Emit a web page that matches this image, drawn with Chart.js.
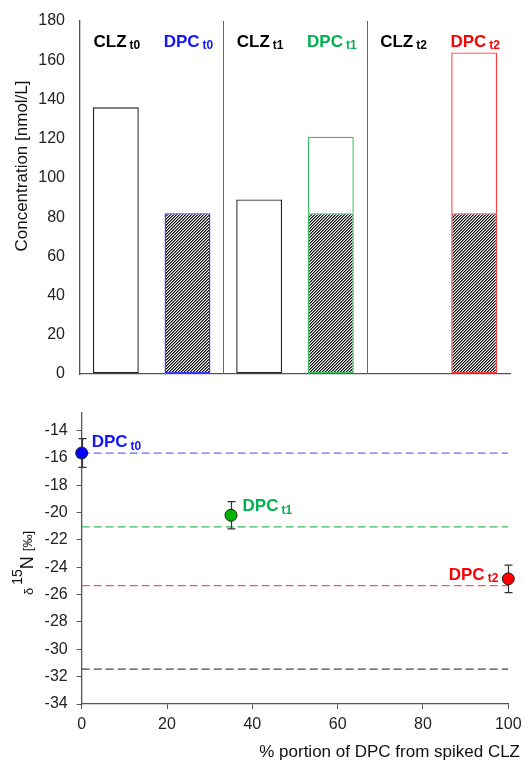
<!DOCTYPE html>
<html><head><meta charset="utf-8">
<script src="https://cdn.jsdelivr.net/npm/chart.js@4.4.1/dist/chart.umd.min.js"></script>
<style>html,body{margin:0;padding:0;background:#fff;width:525px;height:761px;overflow:hidden;} canvas{position:absolute;left:0;}</style>
</head><body>
<canvas id="topChart" width="525" height="390" style="top:0"></canvas>
<canvas id="botChart" width="525" height="371" style="top:390px"></canvas>
<script>
// ---------- data ----------
const concCategories = ['CLZ', 'DPC', 'CLZ', 'DPC', 'CLZ', 'DPC'];
const concSubscripts = ['t0', 't0', 't1', 't1', 't2', 't2'];
const clzConc = [136, null, 89, null, null, null];
const dpcInitialConc = [null, 82, null, 82, null, 82];
const dpcTotalConc = [null, 82, null, 121, null, 164];
const concTickStep = 20;
const concMin = 0, concMax = 180;

const deltaNames = ['DPC', 'DPC', 'DPC'];
const deltaSubscripts = ['t0', 't1', 't2'];
const portionDPC = [0, 35, 100];
const delta15N = [-15.65, -20.2, -24.85];
const delta15NErr = [1.05, 1.0, 1.0];
const refDelta15N = [-15.65, -21.05, -25.35, -31.45];
const portionTickStep = 20;
const deltaTickStep = 2;
const deltaMin = -34, deltaMax = -12.7, deltaTopTick = -14;

// ---------- styles ----------
const FONT = "'Liberation Sans', Arial, Helvetica, sans-serif";
const BLUE = '#1414ff', GREEN = '#00b050', RED = '#ff0000';
const labelColors = ['#000', BLUE, '#000', GREEN, '#000', RED];
const barBorderColors = ['#222', '#3333ff', '#222', '#33c060', '#222', '#ff3a3a'];
const refColors = ['#6a6aff', '#3cbc5c', '#ff5555', '#444'];
const pointFill = ['#0000ff', '#00b400', '#ff0000'];
const deltaLabelColors = [BLUE, GREEN, RED];
const deltaLabelPlace = [{dx: 10, dy: -6, align: 'left'}, {dx: 11.5, dy: -4, align: 'left'}, {dx: -10, dy: 1, align: 'right'}];
const AXIS = '#555';

function hatchPattern() {
  const n = 3;
  const c = document.createElement('canvas');
  c.width = n; c.height = n;
  const g = c.getContext('2d');
  const img = g.createImageData(n, n);
  for (let yy = 0; yy < n; yy++) for (let xx = 0; xx < n; xx++) {
    const k = (xx + yy) % n;
    const v = k === 0 ? 10 : k === 1 ? 120 : 255;
    const o = (yy * n + xx) * 4;
    img.data[o] = img.data[o + 1] = img.data[o + 2] = v; img.data[o + 3] = 255;
  }
  g.putImageData(img, 0, 0);
  return document.createElement('canvas').getContext('2d').createPattern(c, 'repeat');
}

function drawSubText(ctx, main, sub, x, y, color, align, mainSize, subSize, drop) {
  ctx.save();
  ctx.textAlign = 'left'; ctx.textBaseline = 'alphabetic'; ctx.fillStyle = color;
  ctx.font = `bold ${mainSize}px ${FONT}`; const w1 = ctx.measureText(main).width;
  ctx.font = `bold ${subSize}px ${FONT}`; const w2 = ctx.measureText(sub).width;
  const gap = 3, total = w1 + gap + w2;
  const x0 = align === 'center' ? x - total / 2 : align === 'right' ? x - total : x;
  ctx.font = `bold ${mainSize}px ${FONT}`; ctx.fillText(main, x0, y);
  ctx.font = `bold ${subSize}px ${FONT}`; ctx.fillText(sub, x0 + w1 + gap, y + drop);
  ctx.restore();
}

// ---------- top chart ----------
const dpcExtra = dpcTotalConc.map((t, i) => (t == null || dpcInitialConc[i] == null) ? null : (t - dpcInitialConc[i] > 0 ? t - dpcInitialConc[i] : null));

const topPlugin = {
  id: 'topDeco',
  beforeDatasetsDraw(chart) {
    const {ctx, chartArea: a, scales: {x}} = chart;
    ctx.save();
    ctx.strokeStyle = '#666'; ctx.lineWidth = 1;
    [1, 3].forEach(i => {
      const px = Math.round((x.getPixelForValue(i) + x.getPixelForValue(i + 1)) / 2) + 0.5;
      ctx.beginPath(); ctx.moveTo(px, a.top); ctx.lineTo(px, a.bottom); ctx.stroke();
    });
    ctx.restore();
  },
  afterDraw(chart) {
    const {ctx, chartArea: a, scales: {x}} = chart;
    concCategories.forEach((c, i) => {
      drawSubText(ctx, c, concSubscripts[i], x.getPixelForValue(i) + 1, a.top + 25.5, labelColors[i], 'center', 17, 12, 2.5);
    });
    ctx.save();
    ctx.fillStyle = '#111';
    ctx.font = `17px ${FONT}`;
    ctx.translate(27, 166); ctx.rotate(-Math.PI / 2);
    ctx.textAlign = 'center'; ctx.textBaseline = 'alphabetic';
    ctx.fillText('Concentration [nmol/L]', 0, 0);
    ctx.restore();
  }
};

new Chart(document.getElementById('topChart'), {
  type: 'bar',
  data: {
    labels: concCategories.map((c, i) => c + ' ' + concSubscripts[i]),
    datasets: [
      {data: clzConc, backgroundColor: '#fff', borderColor: '#222', borderWidth: 1.4, borderSkipped: false},
      {data: dpcInitialConc, backgroundColor: hatchPattern(), borderColor: barBorderColors, borderWidth: 1.4, borderSkipped: false},
      {data: dpcExtra, backgroundColor: '#fff', borderColor: barBorderColors, borderWidth: 1.4, borderSkipped: 'bottom'}
    ]
  },
  options: {
    responsive: false, animation: false, devicePixelRatio: 1,
    layout: {padding: {top: 21, right: 15, left: 0, bottom: 0}},
    plugins: {legend: {display: false}, tooltip: {enabled: false}},
    datasets: {bar: {categoryPercentage: 1, barPercentage: 0.64}},
    scales: {
      x: {stacked: true, grid: {display: false}, border: {display: true, color: AXIS, width: 1.3},
          ticks: {display: false}, afterFit(s) { s.height = 16; }},
      y: {stacked: true, min: concMin, max: concMax,
          ticks: {stepSize: concTickStep, font: {family: FONT, size: 16}, color: '#222', padding: 2},
          grid: {display: true, drawOnChartArea: false, drawTicks: true, tickLength: 13, color: 'rgba(0,0,0,0)'},
          border: {display: true, color: AXIS, width: 1.3},
          afterFit(s) { s.width = 80; }}
    }
  },
  plugins: [topPlugin]
});

// ---------- bottom chart ----------
const botPlugin = {
  id: 'botDeco',
  beforeDatasetDraw(chart, args) {
    if (args.index !== 0) return;
    const {ctx, scales: {x, y}} = chart;
    ctx.save();
    ctx.strokeStyle = '#333'; ctx.lineWidth = 1.2;
    portionDPC.forEach((v, i) => {
      const px = Math.round(x.getPixelForValue(v)) + 0.5;
      const y1 = y.getPixelForValue(delta15N[i] + delta15NErr[i]);
      const y2 = y.getPixelForValue(delta15N[i] - delta15NErr[i]);
      ctx.beginPath();
      ctx.moveTo(px, y1); ctx.lineTo(px, y2);
      ctx.moveTo(px - 4, y1); ctx.lineTo(px + 4, y1);
      ctx.moveTo(px - 4, y2); ctx.lineTo(px + 4, y2);
      ctx.stroke();
    });
    ctx.restore();
  },
  afterDatasetsDraw(chart) {
    const {ctx, scales: {x, y}} = chart;
    portionDPC.forEach((v, i) => {
      const p = deltaLabelPlace[i];
      drawSubText(ctx, deltaNames[i], deltaSubscripts[i], x.getPixelForValue(v) + p.dx, y.getPixelForValue(delta15N[i]) + p.dy,
        deltaLabelColors[i], p.align, 17, 12, 2.5);
    });
  },
  afterDraw(chart) {
    const {ctx} = chart;
    ctx.save();
    ctx.fillStyle = '#111';
    ctx.font = `17px ${FONT}`;
    ctx.textAlign = 'right'; ctx.textBaseline = 'alphabetic';
    ctx.fillText('% portion of DPC from spiked CLZ', 520, 366.5);
    ctx.restore();
    // y title: δ 15N [‰]
    ctx.save();
    ctx.fillStyle = '#111';
    ctx.translate(32.5, 205); ctx.rotate(-Math.PI / 2);
    ctx.textAlign = 'left'; ctx.textBaseline = 'alphabetic';
    let cx = 0;
    ctx.font = `13px ${FONT}`; ctx.fillText('δ', cx, 0); cx += ctx.measureText('δ').width + 3;
    ctx.font = `14px ${FONT}`; ctx.fillText('15', cx, -11); cx += ctx.measureText('15').width;
    ctx.font = `18px ${FONT}`; ctx.fillText('N', cx, 0); cx += ctx.measureText('N ').width;
    ctx.font = `13px ${FONT}`; ctx.fillText('[‰]', cx, -1);
    ctx.restore();
  }
};

new Chart(document.getElementById('botChart'), {
  type: 'scatter',
  data: {
    datasets: [
      {data: portionDPC.map((v, i) => ({x: v, y: delta15N[i]})), backgroundColor: pointFill, borderColor: '#222',
       borderWidth: 1, pointRadius: 6, clip: false},
      ...refDelta15N.map((v, i) => ({type: 'line', data: [{x: 0, y: v}, {x: 100, y: v}], borderColor: refColors[i],
        borderWidth: 1.3, borderDash: [8, 4], pointRadius: 0, fill: false}))
    ]
  },
  options: {
    responsive: false, animation: false, devicePixelRatio: 1,
    layout: {padding: {top: 22.7, right: 16.7, left: 0, bottom: 0}},
    plugins: {legend: {display: false}, tooltip: {enabled: false}},
    scales: {
      x: {type: 'linear', min: 0, max: 100,
          ticks: {stepSize: portionTickStep, font: {family: FONT, size: 16, lineHeight: 1.6}, color: '#222', padding: 3},
          grid: {display: true, drawOnChartArea: false, drawTicks: true, tickLength: 5, color: AXIS},
          border: {display: true, color: AXIS, width: 1.3},
          afterFit(s) { s.height = 57; }},
      y: {type: 'linear', min: deltaMin, max: deltaMax,
          ticks: {stepSize: deltaTickStep, font: {family: FONT, size: 16}, color: '#222', padding: 9},
          afterBuildTicks(s) {
            const t = [];
            for (let v = deltaMin; v <= deltaTopTick + 1e-9; v += deltaTickStep) t.push({value: v});
            s.ticks = t;
          },
          grid: {display: true, drawOnChartArea: false, drawTicks: true, tickLength: 5, color: AXIS},
          border: {display: true, color: AXIS, width: 1.3},
          afterFit(s) { s.width = 81.7; }}
    }
  },
  plugins: [botPlugin]
});
</script>
</body></html>
